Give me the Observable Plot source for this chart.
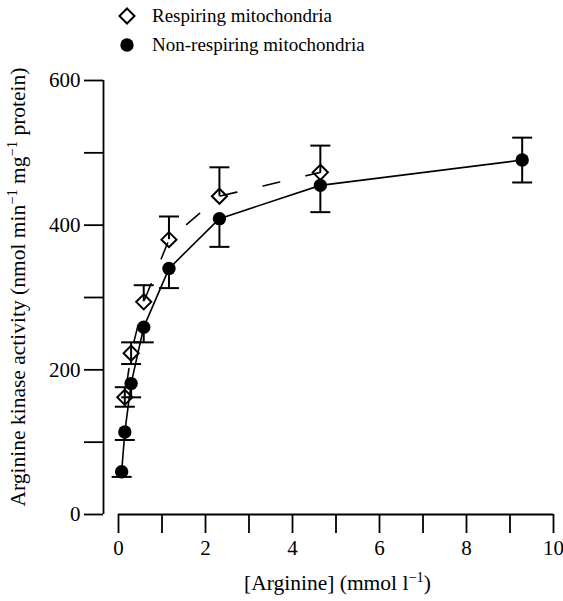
<!DOCTYPE html>
<html><head><meta charset="utf-8">
<script src="https://cdn.jsdelivr.net/npm/d3@7"></script>
<script src="https://cdn.jsdelivr.net/npm/@observablehq/plot@0.6"></script>
<style>
html,body{margin:0;padding:0;background:#fff;}
body{width:563px;height:601px;overflow:hidden;font-family:"Liberation Serif","Times New Roman",serif;color:#000;}
#legend{position:relative;height:60px;}
.item{position:absolute;left:117px;height:20px;display:flex;align-items:center;font-size:19px;white-space:nowrap;}
.item svg{width:20px;height:20px;margin-right:15px;flex:none;}
#chart svg{display:block;}
</style></head><body>
<div id="legend"></div>
<div id="chart"></div>
<script>
// ---- data ----
const seriesNames = ["Respiring mitochondria", "Non-respiring mitochondria"];
const conc = [0.0725, 0.145, 0.29, 0.58, 1.16, 2.32, 4.64, 9.28];
const nonResp = [59, 114, 181, 259, 340, 409, 455, 490];
const nonRespLow = [52, 103, 162, 238, 313, 370, 418, 459];
const nonRespHigh = [59, 114, 181, 259, 340, 409, 455, 521];
const respConc = [0.145, 0.29, 0.58, 1.16, 2.32, 4.64];
const resp = [162, 223, 294, 380, 440, 473];
const respLow = [149, 208, 294, 380, 440, 473];
const respHigh = [176, 238, 317, 412, 480, 510];
const xTicks = [0, 1, 2, 3, 4, 5, 6, 7, 8, 9, 10];
const yTicks = [0, 100, 200, 300, 400, 500, 600];
const xLabelParts = [["[Arginine] (mmol l", false], ["\u22121", true], [")", false]];
const yLabelParts = [["Arginine kinase activity (nmol min", false], ["\u22121", true], [" mg", false], ["\u22121", true], [" protein)", false]];

// ---- tables ----
function rows(xs, ys, lo, hi, series) {
  return xs.map((x, i) => ({series, x, y: ys[i], lo: lo[i], hi: hi[i]}));
}
const respRows = rows(respConc, resp, respLow, respHigh, seriesNames[0]);
const nonRows = rows(conc, nonResp, nonRespLow, nonRespHigh, seriesNames[1]);
const allRows = respRows.concat(nonRows);
const bars = allRows.filter(d => d.lo < d.hi);
const caps = allRows.flatMap(d => [d.lo, d.hi].filter(v => v !== d.y).map(v => ({x: d.x, v})));

const capSymbol = {draw(ctx) { ctx.moveTo(-10, 0); ctx.lineTo(10, 0); }};

const chart = Plot.plot({
  width: 563,
  height: 541,
  marginTop: 20,
  marginBottom: 87,
  marginLeft: 118,
  marginRight: 10,
  style: {fontFamily: '"Liberation Serif", "Times New Roman", serif', fontSize: "21px", background: "#fff", color: "#000"},
  x: {domain: [0, 10]},
  y: {domain: [0, 600]},
  marks: [
    Plot.ruleY([0], {x1: 0, x2: 10, strokeWidth: 1.8}),
    Plot.ruleX([0], {y1: 0, y2: 600, dx: -15, strokeWidth: 1.8}),
    Plot.axisX({ticks: xTicks, tickSize: 19, tickPadding: 7, strokeWidth: 1.8, fontSize: 21,
      tickFormat: d => d % 2 === 0 ? String(d) : "", label: null}),
    Plot.axisY({ticks: yTicks, tickSize: 19, tickPadding: 4, dx: -15, strokeWidth: 1.8, fontSize: 21,
      tickFormat: d => d % 200 === 0 ? String(d) : "", label: null}),
    Plot.line(nonRows, {x: "x", y: "y", stroke: "black", strokeWidth: 1.6}),
    Plot.line(respRows, {x: "x", y: "y", stroke: "black", strokeWidth: 1.6, strokeDasharray: "17,27", strokeDashoffset: 32}),
    Plot.ruleX(bars, {x: "x", y1: "lo", y2: "hi", stroke: "black", strokeWidth: 2}),
    Plot.dot(caps, {x: "x", y: "v", symbol: capSymbol, r: 5, stroke: "black", strokeWidth: 2, fill: "none"}),
    Plot.dot(respRows, {x: "x", y: "y", symbol: "diamond2", r: 6.8, stroke: "black", strokeWidth: 2, fill: "none"}),
    Plot.dot(nonRows, {x: "x", y: "y", r: 6.7, fill: "black", stroke: "none"})
  ]
});
document.getElementById("chart").appendChild(chart);

// ---- axis titles with superscripts ----
const svg = d3.select(chart);
const xs = chart.scale("x"), ys = chart.scale("y");
function addLabel(parts, attrs) {
  const t = svg.append("text").attr("font-size", 21.5).attr("fill", "black").attr("text-anchor", "middle");
  for (const [k, v] of Object.entries(attrs)) t.attr(k, v);
  let up = false;
  for (const [s, sup] of parts) {
    const ts = t.append("tspan").text(s);
    if (sup) { ts.attr("font-size", 14.5).attr("dy", -8); up = true; }
    else if (up) { ts.attr("dy", 8); up = false; }
  }
}
addLabel(xLabelParts, {x: (xs.range[0] + xs.range[1]) / 2 + 2, y: 530});
const ymid = 227;
addLabel(yLabelParts, {transform: `translate(25,${ymid}) rotate(-90)`});

// ---- legend ----
const legend = document.getElementById("legend");
seriesNames.forEach((name, i) => {
  const item = document.createElement("div");
  item.className = "item";
  item.style.top = (i === 0 ? 6 : 35) + "px";
  const sym = i === 0
    ? '<svg viewBox="0 0 20 20"><path d="M10,2.5L17.5,10L10,17.5L2.5,10Z" fill="none" stroke="black" stroke-width="2"/></svg>'
    : '<svg viewBox="0 0 20 20"><circle cx="10" cy="10" r="6.7" fill="black"/></svg>';
  item.innerHTML = sym;
  const span = document.createElement("span");
  span.textContent = name;
  item.appendChild(span);
  legend.appendChild(item);
});
</script>
</body></html>
